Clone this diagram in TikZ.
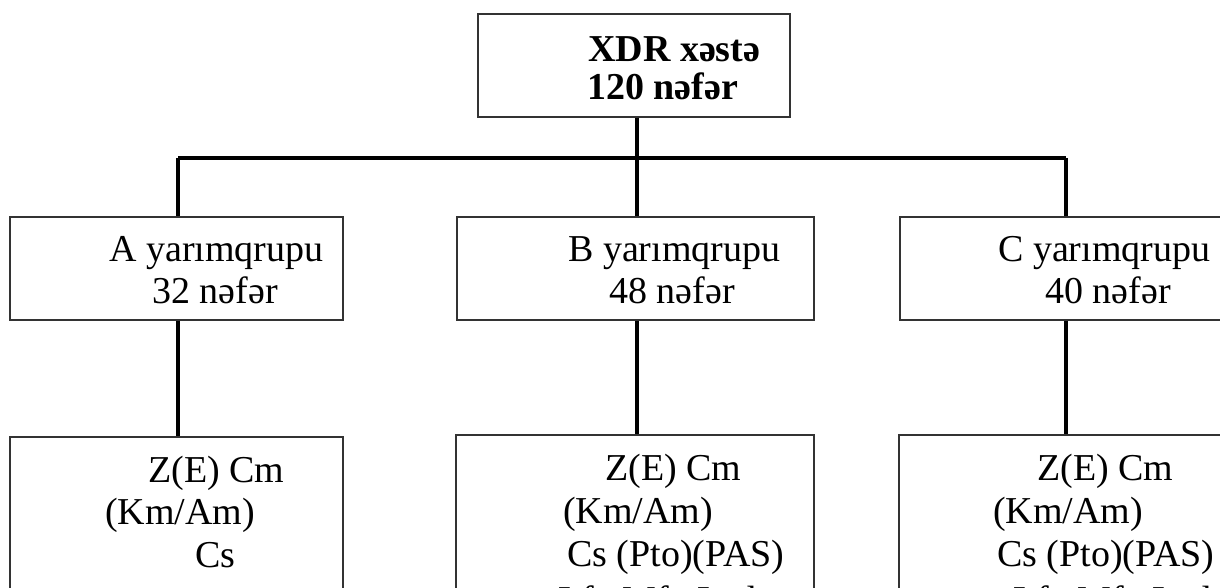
\documentclass[tikz,border=0pt]{standalone}
\usepackage{fontspec}
\setmainfont{Liberation Serif}
\begin{document}
\begin{tikzpicture}[x=1pt,y=-1pt,
  box/.style={draw=black!80,line width=1.4pt,inner sep=0pt},
  conn/.style={draw=black,line width=4pt},
  txt/.style={anchor=base west,inner sep=0pt,font=\fontsize{38}{42}\selectfont},
  btxt/.style={txt,font=\fontsize{38}{42}\selectfont\bfseries}]
\useasboundingbox (0,0) rectangle (1220,588);
\clip (0,0) rectangle (1220,588);
% boxes
\node[box,minimum width=312pt,minimum height=103pt] (top) at (634,65.5) {};
\node[box,minimum width=333pt,minimum height=103pt] (amid) at (176.5,268.5) {};
\node[box,minimum width=357pt,minimum height=103pt] (bmid) at (635.5,268.5) {};
\node[box,minimum width=330pt,minimum height=103pt] (cmid) at (1065,268.5) {};
\node[box,minimum width=333pt,minimum height=185pt] (abot) at (176.5,529.5) {};
\node[box,minimum width=358pt,minimum height=187pt] (bbot) at (635,528.5) {};
\node[box,minimum width=331pt,minimum height=187pt] (cbot) at (1064.5,528.5) {};
% connectors
\coordinate (busA) at (178,158);
\coordinate (busB) at (637,158);
\coordinate (busC) at (1066,158);
\draw[conn] (busA) -- (busC);
\draw[conn] (top.south -| busB) -- (bmid.north -| busB);
\draw[conn] (busA) -- (amid.north -| busA);
\draw[conn] (busC) -- (cmid.north -| busC);
\draw[conn] (amid.south -| busA) -- (abot.north -| busA);
\draw[conn] (bmid.south -| busB) -- (bbot.north -| busB);
\draw[conn] (cmid.south -| busC) -- (cbot.north -| busC);
% texts
\node[btxt] (t1) at (588,62) {XDR xəstə};
\node[btxt] (t2) at (587,100) {120 nəfər};
\node[txt] (a1) at (109,261) {A yarımqrupu};
\node[txt] (a2) at (152,303) {32 nəfər};
\node[txt] (b1) at (568,261) {B yarımqrupu};
\node[txt] (b2) at (609,303) {48 nəfər};
\node[txt] (c1) at (998,261) {C yarımqrupu};
\node[txt] (c2) at (1045,303) {40 nəfər};
\node[txt] (ab1) at (148,482) {Z(E) Cm};
\node[txt] (ab2) at (105,524) {(Km/Am)};
\node[txt] (ab3) at (195,567) {Cs};
\node[txt] (bb1) at (605,480) {Z(E) Cm};
\node[txt] (bb2) at (563,523) {(Km/Am)};
\node[txt] (bb3) at (567,566) {Cs (Pto)(PAS)};
\node[txt] (bb4) at (558,612) {Lfx Mfx Lzd};
\node[txt] (cb1) at (1037,480) {Z(E) Cm};
\node[txt] (cb2) at (993,523) {(Km/Am)};
\node[txt] (cb3) at (997,566) {Cs (Pto)(PAS)};
\node[txt] (cb4) at (1013,612) {Lfx Mfx Lzd};
\end{tikzpicture}
\end{document}
